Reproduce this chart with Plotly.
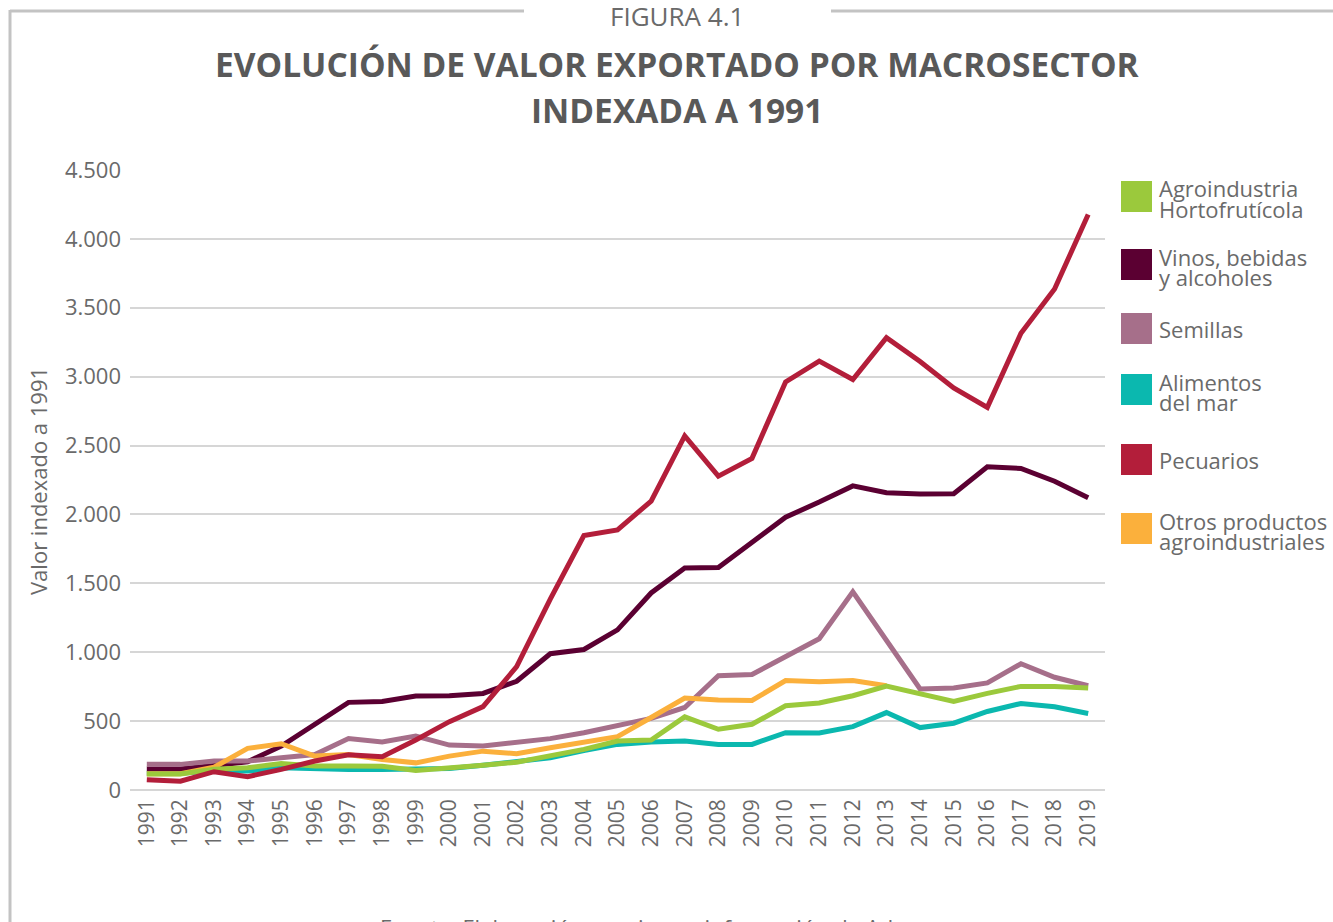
import plotly.graph_objects as go

years = [str(y) for y in range(1991, 2020)]

agroindustria = [116, 116, 150, 162, 192, 175, 175, 173, 141, 156, 180, 202, 246, 295, 355,
                 363, 531, 441, 477, 611, 631, 684, 755, 701, 643, 701, 752, 752, 740]
vinos = [152, 152, 177, 205, 319, 477, 636, 643, 682, 684, 701, 789, 989, 1020, 1162,
         1430, 1612, 1615, 1798, 1980, 2090, 2207, 2158, 2149, 2151, 2346, 2334, 2241, 2122]
semillas = [186, 186, 210, 210, 234, 258, 373, 348, 392, 326, 319, 348, 373, 416, 470,
            520, 599, 830, 838, 964, 1098, 1439, 1090, 733, 740, 777, 916, 818, 757]
alimentos = [122, 122, 140, 138, 161, 151, 149, 149, 149, 156, 180, 210, 234, 287, 331,
             348, 355, 331, 331, 416, 414, 460, 562, 453, 485, 570, 628, 604, 555]
pecuarios = [75, 64, 133, 97, 150, 210, 255, 242, 363, 496, 605, 895, 1385, 1847, 1888,
             2097, 2570, 2278, 2407, 2962, 3113, 2979, 3283, 3110, 2918, 2777, 3315, 3636, 4177]
otros = [118, 118, 165, 302, 336, 246, 258, 222, 197, 246, 282, 263, 307, 343, 387,
         526, 667, 653, 650, 794, 786, 794, 757, None, None, None, None, None, None]

names = ["Agroindustria Hortofrutícola", "Vinos, bebidas y alcoholes", "Semillas",
         "Alimentos del mar", "Pecuarios", "Otros productos agroindustriales"]
legend_lines = [["Agroindustria", "Hortofrutícola"], ["Vinos, bebidas", "y alcoholes"],
                ["Semillas"], ["Alimentos", "del mar"], ["Pecuarios"],
                ["Otros productos", "agroindustriales"]]
colors = ["#9BC93C", "#5B0032", "#A66F8A", "#0BB8AF", "#B31E3A", "#FBB03C"]
series = [agroindustria, vinos, semillas, alimentos, pecuarios, otros]

title_l1 = "EVOLUCIÓN DE VALOR EXPORTADO POR MACROSECTOR"
title_l2 = "INDEXADA A 1991"
figura = "FIGURA 4.1"
y_title = "Valor indexado a 1991"
source = "Fuente: Elaboración propia con información de Aduanas."

FONT = "Open Sans"
GRAY = "#595959"
TICK_GRAY = "#6A6A6A"

# plot area in pixels
L, R, T, B = 130, 1105, 170, 790
W, H = 1333, 922


def px(x):
    return (x - L) / (R - L)


def py(y):
    return (B - y) / (B - T)


fig = go.Figure()

draw_order = [3, 1, 2, 5, 0, 4]  # teal, dark, pink, orange, green, red
for i in draw_order:
    fig.add_trace(go.Scatter(
        x=years, y=series[i], name=names[i], mode="lines",
        line=dict(color=colors[i], width=5),
        connectgaps=False, showlegend=False,
    ))

shapes = []
annotations = []

# frame lines
frame_col = "#C3C3C3"
shapes.append(dict(type="line", xref="paper", yref="paper", x0=px(10), x1=px(524),
                   y0=py(11), y1=py(11), line=dict(color=frame_col, width=3)))
shapes.append(dict(type="line", xref="paper", yref="paper", x0=px(831), x1=px(1340),
                   y0=py(11), y1=py(11), line=dict(color=frame_col, width=3)))
shapes.append(dict(type="line", xref="paper", yref="paper", x0=px(10), x1=px(10),
                   y0=py(10), y1=py(930), line=dict(color=frame_col, width=3)))

# titles
annotations.append(dict(text=figura, xref="paper", yref="paper", x=px(677), y=py(16),
                        xanchor="center", yanchor="middle", showarrow=False,
                        font=dict(family=FONT, size=26, color=TICK_GRAY)))
annotations.append(dict(text="<b>" + title_l1 + "</b>", xref="paper", yref="paper",
                        x=px(677), y=py(64), xanchor="center", yanchor="middle",
                        showarrow=False, font=dict(family=FONT, size=33.5, color=GRAY)))
annotations.append(dict(text="<b>" + title_l2 + "</b>", xref="paper", yref="paper",
                        x=px(677), y=py(110), xanchor="center", yanchor="middle",
                        showarrow=False, font=dict(family=FONT, size=33.5, color=GRAY)))

# y-axis title
annotations.append(dict(text=y_title, xref="paper", yref="paper", x=px(38), y=py(481),
                        xanchor="center", yanchor="middle", textangle=-90,
                        showarrow=False, font=dict(family=FONT, size=22, color=TICK_GRAY)))

# source (partly cut at bottom, as in the reference)
annotations.append(dict(text=source, xref="paper", yref="paper", x=px(378), y=py(910),
                        xanchor="left", yanchor="top", showarrow=False,
                        font=dict(family=FONT, size=22, color=TICK_GRAY)))

# manual legend
sq_tops = [181, 249, 313, 374, 444, 513]
for k in range(6):
    t = sq_tops[k]
    shapes.append(dict(type="rect", xref="paper", yref="paper", x0=px(1121), x1=px(1152),
                       y0=py(t), y1=py(t + 31), fillcolor=colors[k],
                       line=dict(width=0)))
    lines = legend_lines[k]
    if len(lines) == 1:
        centers = [t + 16]
    else:
        centers = [t + 7.5, t + 27.5]
    for txt, c in zip(lines, centers):
        annotations.append(dict(text=txt, xref="paper", yref="paper", x=px(1157), y=py(c),
                                xanchor="left", yanchor="middle", showarrow=False,
                                font=dict(family=FONT, size=22, color=TICK_GRAY)))

fig.update_layout(
    width=W, height=H,
    margin=dict(l=L, r=W - R, t=T, b=H - B, pad=0),
    paper_bgcolor="white", plot_bgcolor="white",
    separators=",.",
    showlegend=False,
    shapes=shapes, annotations=annotations,
    font=dict(family=FONT, color=GRAY),
    xaxis=dict(
        type="category", range=[-0.5, 28.5], tickangle=-90,
        tickfont=dict(family=FONT, size=21, color=TICK_GRAY),
        showgrid=False, showline=False, zeroline=False, ticks="",
        ticklabelstandoff=4,
    ),
    yaxis=dict(
        range=[0, 4500], tickmode="array",
        tickvals=[0, 500, 1000, 1500, 2000, 2500, 3000, 3500, 4000, 4500],
        tickformat=",d",
        tickfont=dict(family=FONT, size=22, color=TICK_GRAY),
        showgrid=True, gridcolor="#D6D6D6", gridwidth=1.5,
        zeroline=True, zerolinecolor="#D6D6D6", zerolinewidth=1.5,
        showline=False, ticks="", ticklabelstandoff=8,
    ),
)

fig.write_html("out.html", config={"displayModeBar": False},
               post_script="document.body.style.margin='0';document.body.style.padding='0';")
